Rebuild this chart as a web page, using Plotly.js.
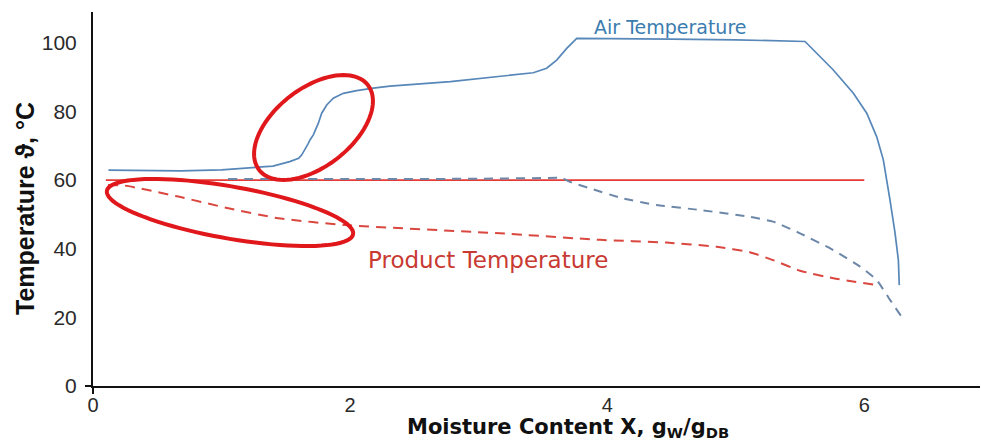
<!DOCTYPE html>
<html>
<head>
<meta charset="utf-8">
<script src="https://cdn.plot.ly/plotly-3.0.1.min.js"></script>
<style>html,body{margin:0;padding:0;background:#fff;}#chart{width:981px;height:443px;}</style>
</head>
<body>
<div id="chart"></div>
<script>
// Air temperature (solid blue)
const airX = [0.12, 0.68, 1.0, 1.14, 1.40, 1.53, 1.60, 1.623, 1.649, 1.675, 1.688, 1.714, 1.753, 1.779, 1.818, 1.869, 1.947, 2.051, 2.18, 2.31, 2.78, 3.2, 3.425, 3.529, 3.607, 3.685, 3.763, 4.5, 5.0, 5.539, 5.759, 5.915, 6.019, 6.096, 6.148, 6.20, 6.239, 6.265, 6.272];
const airT = [62.9, 62.7, 63.0, 63.4, 64.1, 65.4, 66.4, 67.3, 68.8, 70.7, 71.7, 73.2, 76.6, 79.5, 81.9, 83.9, 85.3, 86.1, 86.8, 87.4, 88.7, 90.3, 91.3, 92.6, 95.0, 98.4, 101.3, 101.1, 100.9, 100.4, 92.1, 85.3, 79.5, 72.7, 65.9, 54.2, 44.6, 36.7, 29.4];
// Air temperature (dashed blue)
const airDashX = [1.05, 2.0, 3.0, 3.5, 3.65, 3.71, 3.866, 4.12, 4.385, 4.72, 5.11, 5.29, 5.5, 5.759, 5.967, 6.096, 6.2, 6.29];
const airDashT = [60.3, 60.3, 60.4, 60.6, 60.6, 59.5, 57.6, 54.7, 52.75, 51.3, 49.3, 47.9, 44.5, 39.6, 34.8, 30.9, 25.1, 20.2];
// Product temperature (dashed red)
const prodX = [0.117, 0.249, 0.664, 1.053, 1.44, 1.96, 3.166, 3.944, 4.46, 4.85, 5.11, 5.29, 5.5, 5.759, 6.096];
const prodT = [58.6, 58.4, 55.2, 51.8, 48.9, 46.9, 44.5, 42.6, 41.8, 40.6, 39.0, 36.7, 33.6, 31.4, 29.4];
// Constant product temperature (solid red)
const constX = [0.1, 6.0];
const constT = [60, 60];
// Tick values
const xTicks = [0, 2, 4, 6];
const yTicks = [0, 20, 40, 60, 80, 100];

const xRange = [0, 6.9], yRange = [0, 109];
const mL = 93, mR = 1, mT = 12, mB = 57, W = 981, H = 443;
const xScale = (W - mL - mR) / (xRange[1] - xRange[0]);
const yScale = (H - mT - mB) / (yRange[1] - yRange[0]);

function ellipsePath(cx, cy, aPx, bPx, angDeg) {
  const th = angDeg * Math.PI / 180;
  let d = '';
  const n = 90;
  for (let i = 0; i <= n; i++) {
    const t = 2 * Math.PI * i / n;
    const dx = aPx * Math.cos(t) * Math.cos(th) - bPx * Math.sin(t) * Math.sin(th);
    const dy = aPx * Math.cos(t) * Math.sin(th) + bPx * Math.sin(t) * Math.cos(th);
    const x = cx + dx / xScale, y = cy + dy / yScale;
    d += (i === 0 ? 'M' : 'L') + x.toFixed(4) + ',' + y.toFixed(3);
  }
  return d + 'Z';
}

const traces = [
  {x: constX, y: constT, mode: 'lines', line: {color: '#e53a36', width: 1.8}, hoverinfo: 'skip'},
  {x: prodX, y: prodT, mode: 'lines', line: {color: '#d9473f', width: 2, dash: '10px,7px', shape: 'spline', smoothing: 0.5}, hoverinfo: 'skip'},
  {x: airDashX, y: airDashT, mode: 'lines', line: {color: '#6c87a8', width: 2, dash: '9px,7px', shape: 'spline', smoothing: 0.5}, hoverinfo: 'skip'},
  {x: airX, y: airT, mode: 'lines', line: {color: '#5787b8', width: 1.7}, hoverinfo: 'skip'},
  // invisible trace on overlay axes to draw the origin ticks
  {x: [0], y: [0], xaxis: 'x2', yaxis: 'y2', mode: 'markers', marker: {opacity: 0}, hoverinfo: 'skip'}
];

const layout = {
  width: W, height: H,
  margin: {l: mL, r: mR, t: mT, b: mB},
  paper_bgcolor: '#fff', plot_bgcolor: '#fff',
  showlegend: false,
  font: {family: 'Liberation Sans, Arial, sans-serif', color: '#2a2a2a'},
  xaxis: {range: xRange, tickvals: xTicks, showgrid: false, zeroline: false, showline: true, linecolor: '#111', linewidth: 2,
          ticks: '', tickfont: {size: 20, color: '#2a2a2a'}, ticklabelstandoff: 0},
  yaxis: {range: yRange, tickvals: yTicks, showgrid: false, zeroline: false, showline: true, linecolor: '#111', linewidth: 2,
          ticks: '', tickfont: {size: 21, color: '#2a2a2a'}, ticklabelstandoff: 10},
  xaxis2: {range: xRange, overlaying: 'x', tickvals: [0], ticks: 'outside', ticklen: 7, tickwidth: 2, tickcolor: '#111', showticklabels: false, showgrid: false, zeroline: false, showline: false},
  yaxis2: {range: yRange, overlaying: 'y', tickvals: [0], ticks: 'outside', ticklen: 7, tickwidth: 2, tickcolor: '#111', showticklabels: false, showgrid: false, zeroline: false, showline: false},
  shapes: [
    {type: 'path', xref: 'x', yref: 'y', path: ellipsePath((313.5 - mL) / xScale, (H - mB - 127.5) / yScale, 69, 39, 38), line: {color: '#e0181c', width: 4}},
    {type: 'path', xref: 'x', yref: 'y', path: ellipsePath((230 - mL) / xScale, (H - mB - 212.5) / yScale, 125, 26, -10), line: {color: '#e0181c', width: 4}}
  ],
  annotations: [
    {text: 'Air Temperature', x: (670 - mL) / xScale, y: (H - mB - 27) / yScale, xref: 'x', yref: 'y', showarrow: false, font: {family: 'DejaVu Sans', size: 19, color: '#3b7db0'}},
    {text: 'Product Temperature', x: (488 - mL) / xScale, y: (H - mB - 260) / yScale, xref: 'x', yref: 'y', showarrow: false, font: {family: 'DejaVu Sans', size: 23, color: '#c83a32'}},
    {text: '<b>Moisture Content X, g<sub>W</sub>/g<sub>DB</sub></b>', xref: 'paper', yref: 'paper', x: (568 - mL) / (W - mL - mR), y: -(428 - (H - mB)) / (H - mT - mB), xanchor: 'center', yanchor: 'middle', showarrow: false, font: {family: 'DejaVu Sans', size: 21, color: '#111'}},
    {text: '<b>Temperature ϑ, °C</b>', xref: 'paper', yref: 'paper', x: -(mL - 25) / (W - mL - mR), y: ((H - mB) - 209) / (H - mT - mB), xanchor: 'center', yanchor: 'middle', textangle: -90, showarrow: false, font: {family: 'Liberation Sans, Arial', size: 25, color: '#111'}}
  ]
};

Plotly.newPlot('chart', traces, layout, {staticPlot: true, displayModeBar: false});
</script>
</body>
</html>
